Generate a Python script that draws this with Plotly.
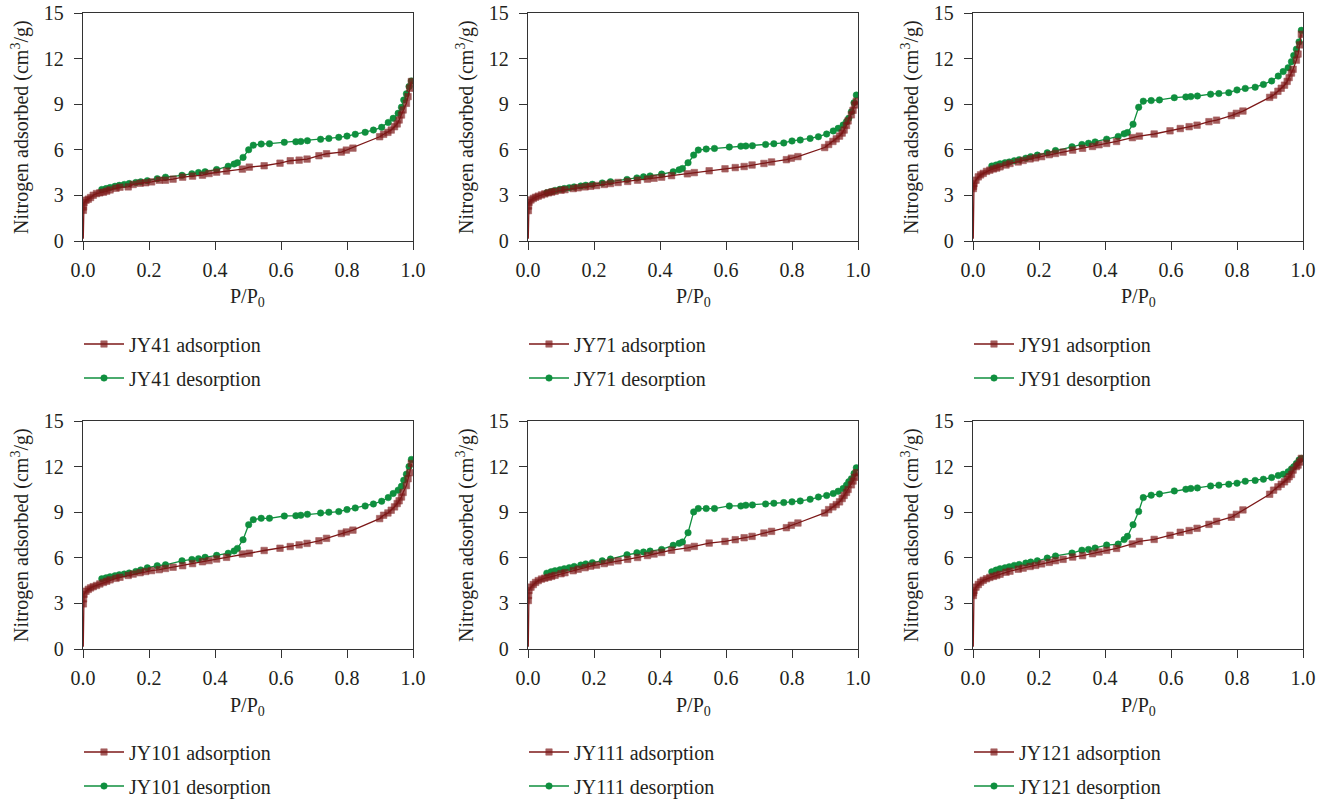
import plotly.graph_objects as go

# ---------------- data ----------------
samples = ["JY41", "JY71", "JY91", "JY101", "JY111", "JY121"]

ads_p = [0.0008, 0.001, 0.0015, 0.003, 0.009, 0.016, 0.023, 0.031, 0.041, 0.051,
         0.062, 0.072, 0.082, 0.10, 0.112, 0.137, 0.152, 0.173, 0.19, 0.208,
         0.231, 0.25, 0.273, 0.302, 0.332, 0.362, 0.382, 0.405, 0.435, 0.483,
         0.504, 0.549, 0.597, 0.628, 0.655, 0.679, 0.715, 0.738, 0.783, 0.798,
         0.818, 0.899, 0.911, 0.924, 0.934, 0.944, 0.952, 0.958, 0.965, 0.97,
         0.98, 0.985, 0.99, 0.995]

des_p = [0.057, 0.07, 0.082, 0.097, 0.11, 0.125, 0.14, 0.16, 0.175, 0.195,
         0.225, 0.25, 0.30, 0.33, 0.35, 0.37, 0.405, 0.44, 0.458, 0.468,
         0.485, 0.502, 0.516, 0.54, 0.565, 0.61, 0.645, 0.66, 0.68, 0.72,
         0.745, 0.775, 0.80, 0.825, 0.855, 0.88, 0.905, 0.925, 0.94, 0.955,
         0.965, 0.972, 0.98, 0.988, 0.995]

ads_jy41 = [0.15, 2.02, 2.24, 2.53, 2.68, 2.75, 2.86, 3.01, 3.12, 3.17,
            3.21, 3.28, 3.36, 3.47, 3.54, 3.56, 3.72, 3.80, 3.83, 3.89,
            4.0, 4.0, 4.07, 4.2, 4.27, 4.33, 4.44, 4.53, 4.6, 4.73,
            4.86, 4.95, 5.12, 5.28, 5.32, 5.39, 5.61, 5.74, 5.85, 5.98,
            6.11, 6.86, 7.02, 7.15, 7.3, 7.52, 7.7, 7.96, 8.29, 8.62,
            9.06, 9.5, 10.05, 10.49]
des_jy41 = [3.39, 3.45, 3.52, 3.6, 3.66, 3.72, 3.78, 3.85, 3.89, 3.97,
            4.1, 4.2, 4.32, 4.42, 4.5, 4.56, 4.7, 4.92, 5.06, 5.15,
            5.5, 6.0, 6.3, 6.38, 6.4, 6.49, 6.53, 6.55, 6.6, 6.69,
            6.75, 6.82, 6.9, 7.02, 7.15, 7.3, 7.48, 7.8, 8.07, 8.4,
            8.8, 9.28, 9.68, 10.16, 10.53]

ads_jy71 = [0.15, 2.0, 2.3, 2.55, 2.7, 2.8, 2.88, 2.95, 3.03, 3.1,
            3.17, 3.22, 3.27, 3.34, 3.38, 3.45, 3.5, 3.56, 3.6, 3.65,
            3.72, 3.78, 3.85, 3.92, 4.0, 4.07, 4.13, 4.2, 4.3, 4.42,
            4.5, 4.62, 4.75, 4.83, 4.9, 5.0, 5.1, 5.2, 5.35, 5.45,
            5.55, 6.15, 6.35, 6.55, 6.72, 6.9, 7.1, 7.3, 7.6, 7.9,
            8.3, 8.6, 8.95, 9.2]
des_jy71 = [3.18, 3.25, 3.33, 3.4, 3.45, 3.5, 3.56, 3.62, 3.67, 3.73,
            3.82, 3.9, 4.05, 4.15, 4.22, 4.28, 4.4, 4.55, 4.68, 4.77,
            5.15, 5.65, 5.98, 6.05, 6.09, 6.18, 6.24, 6.25, 6.27, 6.35,
            6.4, 6.45, 6.58, 6.64, 6.75, 6.86, 7.04, 7.24, 7.41, 7.63,
            7.85, 8.07, 8.5, 9.1, 9.6]

ads_jy91 = [0.15, 3.45, 3.6, 3.78, 4.0, 4.22, 4.35, 4.45, 4.58, 4.66,
            4.74, 4.8, 4.88, 5.0, 5.1, 5.2, 5.3, 5.4, 5.47, 5.55,
            5.68, 5.76, 5.85, 5.98, 6.1, 6.22, 6.33, 6.42, 6.55, 6.8,
            6.9, 7.04, 7.25, 7.4, 7.52, 7.62, 7.85, 7.95, 8.25, 8.4,
            8.55, 9.45, 9.6, 9.85, 10.05, 10.25, 10.5, 10.75, 11.05, 11.3,
            11.9, 12.3, 12.9, 13.6]
des_jy91 = [4.93, 5.0, 5.08, 5.15, 5.2, 5.28, 5.35, 5.45, 5.55, 5.65,
            5.8, 5.95, 6.2, 6.35, 6.43, 6.52, 6.7, 6.88, 7.05, 7.13,
            7.68, 8.8, 9.2, 9.24, 9.28, 9.43, 9.48, 9.5, 9.54, 9.66,
            9.7, 9.76, 9.94, 10.04, 10.12, 10.3, 10.53, 10.85, 11.15, 11.4,
            11.8, 12.2, 12.62, 13.1, 13.86]

ads_jy101 = [0.15, 2.97, 3.3, 3.6, 3.8, 3.92, 4.02, 4.1, 4.18, 4.28,
             4.38, 4.46, 4.55, 4.65, 4.72, 4.84, 4.93, 5.02, 5.1, 5.16,
             5.22, 5.3, 5.38, 5.48, 5.62, 5.74, 5.82, 5.92, 6.03, 6.25,
             6.3, 6.48, 6.63, 6.74, 6.85, 6.95, 7.12, 7.28, 7.6, 7.7,
             7.82, 8.58, 8.8, 8.95, 9.13, 9.35, 9.57, 9.75, 10.0, 10.3,
             10.75, 11.2, 11.6, 12.2]
des_jy101 = [4.62, 4.68, 4.75, 4.82, 4.88, 4.93, 5.0, 5.1, 5.2, 5.34,
             5.48, 5.54, 5.8, 5.89, 5.94, 6.03, 6.16, 6.3, 6.45, 6.62,
             7.19, 8.18, 8.51, 8.6, 8.6, 8.75, 8.77, 8.8, 8.86, 8.95,
             9.0, 9.04, 9.17, 9.28, 9.41, 9.54, 9.72, 9.96, 10.23, 10.45,
             10.7, 11.1, 11.5, 12.0, 12.47]

ads_jy111 = [0.15, 3.19, 3.52, 3.85, 4.07, 4.24, 4.38, 4.5, 4.6, 4.66,
             4.72, 4.78, 4.85, 4.95, 5.02, 5.15, 5.25, 5.35, 5.45, 5.52,
             5.62, 5.72, 5.8, 5.9, 6.02, 6.15, 6.25, 6.35, 6.5, 6.65,
             6.75, 6.97, 7.08, 7.19, 7.32, 7.41, 7.63, 7.74, 7.98, 8.14,
             8.29, 8.95, 9.17, 9.35, 9.5, 9.68, 9.9, 10.1, 10.3, 10.5,
             10.8, 11.05, 11.3, 11.6]
des_jy111 = [4.99, 5.08, 5.15, 5.21, 5.28, 5.35, 5.43, 5.52, 5.6, 5.68,
             5.8, 5.92, 6.2, 6.33, 6.38, 6.44, 6.55, 6.82, 6.95, 7.04,
             7.65, 9.02, 9.24, 9.24, 9.24, 9.41, 9.41, 9.46, 9.48, 9.54,
             9.59, 9.63, 9.68, 9.74, 9.85, 10.0, 10.1, 10.23, 10.38, 10.56,
             10.78, 11.0, 11.2, 11.55, 11.92]

ads_jy121 = [0.15, 3.52, 3.7, 3.85, 4.07, 4.24, 4.4, 4.52, 4.62, 4.71,
             4.78, 4.84, 4.92, 5.05, 5.12, 5.25, 5.32, 5.43, 5.5, 5.6,
             5.7, 5.81, 5.9, 6.05, 6.14, 6.27, 6.38, 6.49, 6.62, 6.91,
             7.08, 7.21, 7.48, 7.68, 7.79, 7.94, 8.2, 8.4, 8.67, 8.86,
             9.15, 10.18, 10.45, 10.67, 10.84, 11.0, 11.17, 11.33, 11.48, 11.77,
             12.0, 12.1, 12.3, 12.54]
des_jy121 = [5.08, 5.19, 5.28, 5.34, 5.41, 5.5, 5.56, 5.65, 5.72, 5.8,
             5.98, 6.12, 6.31, 6.5, 6.55, 6.64, 6.84, 6.9, 7.2, 7.41,
             8.18, 9.05, 9.96, 10.12, 10.2, 10.4, 10.51, 10.56, 10.6, 10.73,
             10.78, 10.84, 10.91, 11.04, 11.09, 11.17, 11.28, 11.41, 11.5, 11.66,
             11.85, 11.99, 12.2, 12.43, 12.54]

ads_all = [ads_jy41, ads_jy71, ads_jy91, ads_jy101, ads_jy111, ads_jy121]
des_all = [des_jy41, des_jy71, des_jy91, des_jy101, des_jy111, des_jy121]

x_ticks = [0.0, 0.2, 0.4, 0.6, 0.8, 1.0]
y_ticks = [0, 3, 6, 9, 12, 15]

# ---------------- layout constants (pixels) ----------------
W, H = 1331, 804
FONT = "Liberation Serif"
FS = 20
RED = "#7c1818"
GREEN = "#0f8f3e"
AXC = "#333333"
TXT = "#231f20"

col_left = [83, 528, 973]
plot_w = 330
row_top = [13, 421]
plot_h = 228

def px(x):
    return x / W

def py(y):
    return 1 - y / H

fig = go.Figure()
ann = []

for i, name in enumerate(samples):
    r, c = divmod(i, 3)
    k = i + 1
    xa = "x" if k == 1 else f"x{k}"
    ya = "y" if k == 1 else f"y{k}"
    L = col_left[c]
    T = row_top[r]
    xlay = "xaxis" if k == 1 else f"xaxis{k}"
    ylay = "yaxis" if k == 1 else f"yaxis{k}"
    leg_a = f"legend{2*i+1}" if 2*i+1 > 1 else "legend"
    leg_d = f"legend{2*i+2}"

    sizes = [0] + [6.5] * (len(ads_p) - 1)
    fig.add_trace(go.Scatter(
        x=des_p, y=des_all[i], mode="lines+markers", name=f"{name} desorption",
        line=dict(color=GREEN, width=1.3),
        marker=dict(symbol="circle", size=6.5, color=GREEN, line=dict(width=0.5, color=GREEN)),
        xaxis=xa, yaxis=ya, legend=leg_d))
    fig.add_trace(go.Scatter(
        x=ads_p, y=ads_all[i], mode="lines+markers", name=f"{name} adsorption",
        line=dict(color=RED, width=1.3),
        marker=dict(symbol="square", size=sizes, color=RED, line=dict(width=0.6, color=RED)),
        xaxis=xa, yaxis=ya, legend=leg_a))

    axis_common = dict(showline=True, linecolor=AXC, linewidth=1.3, mirror=True,
                       ticks="outside", ticklen=8, tickwidth=1.3, tickcolor=AXC,
                       showgrid=False, zeroline=False, automargin=False,
                       tickfont=dict(family=FONT, size=FS, color=TXT))
    fig.update_layout({
        xlay: dict(domain=[px(L), px(L + plot_w)], range=[0, 1], anchor=ya,
                   tickvals=x_ticks, ticktext=[f"{v:.1f}" for v in x_ticks],
                   ticklabelstandoff=3, **axis_common),
        ylay: dict(domain=[py(T + plot_h), py(T)], range=[0, 15], anchor=xa,
                   tickvals=y_ticks, ticktext=[str(v) for v in y_ticks],
                   ticklabelstandoff=6, **axis_common),
    })

    ann.append(dict(x=px(L - 63), y=py(T + plot_h / 2), xref="paper", yref="paper",
                    text="Nitrogen adsorbed (cm<sup>3</sup>/g)", textangle=-90,
                    showarrow=False, xanchor="center", yanchor="middle",
                    font=dict(family=FONT, size=FS, color=TXT)))
    ann.append(dict(x=px(L + plot_w / 2), y=py(T + 285), xref="paper", yref="paper",
                    text="P/P<sub>0</sub>", showarrow=False, xanchor="center", yanchor="middle",
                    font=dict(family=FONT, size=FS, color=TXT)))

    legend_common = dict(xanchor="left", yanchor="middle", bgcolor="rgba(0,0,0,0)",
                         font=dict(family=FONT, size=FS, color=TXT), itemwidth=40,
                         borderwidth=0)
    fig.update_layout({
        leg_a: dict(x=px(L - 4), y=py(T + 331), **legend_common),
        leg_d: dict(x=px(L - 4), y=py(T + 365), **legend_common),
    })

fig.update_layout(
    width=W, height=H, margin=dict(l=0, r=0, t=0, b=0, autoexpand=False),
    paper_bgcolor="white", plot_bgcolor="white",
    showlegend=True, annotations=ann,
    font=dict(family=FONT, size=FS, color=TXT),
)

fig.write_html("out.html")
